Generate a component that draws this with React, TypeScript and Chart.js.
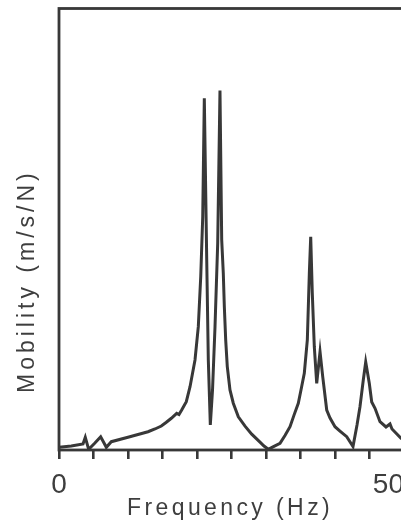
import React, { useEffect, useRef } from "react";
import { Chart, registerables } from "chart.js";

Chart.register(...registerables);

const freqHz = [0, 0.1, 1.78, 3.48, 3.81, 4.3, 5.17, 6.04, 6.86, 7.58, 10.0, 11.45, 12.9, 13.91, 14.83, 15.51, 16.28, 17.06, 17.39, 17.78, 18.45, 18.99, 19.71, 20.19, 20.54, 20.83, 21.06, 21.41, 21.64, 21.93, 22.25, 22.61, 23.0, 23.33, 23.58, 23.81, 23.96, 24.16, 24.39, 24.78, 25.26, 25.99, 26.96, 27.93, 29.13, 29.71, 30.33, 31.01, 32.03, 32.75, 33.48, 34.06, 34.68, 35.07, 35.55, 35.99, 36.28, 36.48, 36.71, 37.0, 37.35, 37.83, 38.22, 38.8, 39.28, 40.0, 40.72, 41.7, 42.61, 43.19, 43.62, 44.1, 44.45, 44.97, 45.32, 45.8, 46.52, 47.39, 47.97, 48.26, 49.57, 50];
const mobility = [0.6, 0.6, 0.9, 1.36, 2.88, 0.16, 1.52, 3.01, 0.61, 1.88, 2.88, 3.5, 4.14, 4.76, 5.44, 6.23, 7.18, 8.31, 8.04, 9.06, 10.94, 14.34, 20.39, 27.93, 39.25, 52.84, 79.66, 43.03, 20.39, 5.66, 13.6, 27.93, 46.8, 81.4, 47.6, 40.1, 32.5, 24.9, 18.9, 13.6, 10.6, 7.5, 5.4, 3.6, 1.8, 0.9, 0.16, 0.7, 1.52, 3.3, 5.28, 7.9, 10.58, 13.6, 17.37, 24.92, 40.02, 48.31, 35.49, 23.4, 15.11, 22.27, 16.6, 9.06, 7.25, 5.28, 4.3, 3.01, 0.79, 5.66, 9.81, 15.86, 19.93, 15.11, 10.87, 9.44, 6.41, 5.21, 5.89, 4.76, 2.65, 2.27];
const xTickLabels = ["0", "50"];
const xTickValues = [0, 50];
const xTitle = "Frequency (Hz)";
const yTitle = "Mobility (m/s/N)";

const INK = "#383838";
const TEXT = "#3e3e3e";

export default function App() {
  const ref = useRef<HTMLCanvasElement | null>(null);
  useEffect(() => {
    if (!ref.current) return;
    const framePlugin = {
      id: "frame",
      afterDraw(chart: any) {
        const ctx = chart.ctx as CanvasRenderingContext2D;
        const a = chart.chartArea;
        const xs = chart.scales.x;
        ctx.save();
        ctx.strokeStyle = INK;
        ctx.lineWidth = 2.8;
        ctx.strokeRect(a.left, a.top, a.right - a.left, a.bottom - a.top);
        // tick labels
        ctx.fillStyle = TEXT;
        ctx.font = "28px 'Liberation Sans Narrow', 'Liberation Sans', sans-serif";
        ctx.textBaseline = "alphabetic";
        xTickValues.forEach((v, i) => {
          const px = xs.getPixelForValue(v);
          ctx.textAlign = i === 0 ? "center" : "right";
          ctx.fillText(xTickLabels[i], px, a.bottom + 43);
        });
        // axis titles
        ctx.font = "23px 'Liberation Sans', Arial, sans-serif";
        (ctx as any).letterSpacing = "3.4px";
        ctx.textAlign = "left";
        ctx.fillText(xTitle, 127, 515);
        ctx.translate(34, 393);
        ctx.rotate(-Math.PI / 2);
        (ctx as any).letterSpacing = "4px";
        ctx.fillText(yTitle, 0, 0);
        ctx.restore();
      },
    };
    const chart = new Chart(ref.current, {
      type: "line",
      data: {
        datasets: [
          {
            data: freqHz.map((f, i) => ({ x: f, y: mobility[i] })),
            borderColor: INK,
            borderWidth: 3,
            pointRadius: 0,
            tension: 0,
            fill: false,
          },
        ],
      },
      options: {
        animation: false,
        responsive: false,
        devicePixelRatio: 1,
        layout: { padding: { left: 59, right: 36, top: 8.5, bottom: 69 } },
        plugins: { legend: { display: false }, tooltip: { enabled: false } },
        scales: {
          x: {
            type: "linear",
            min: 0,
            max: 50,
            offset: false,
            border: { display: false },
            grid: {
              drawOnChartArea: false,
              drawTicks: true,
              tickLength: 9,
              color: INK,
              lineWidth: 2.6,
            },
            ticks: { stepSize: 5, display: false },
          },
          y: {
            display: false,
            min: 0,
            max: 100,
          },
        },
      },
      plugins: [framePlugin],
    });
    return () => chart.destroy();
  }, []);
  return (
    <div
      style={{
        position: "fixed",
        left: 0,
        top: 0,
        width: 401,
        height: 528,
        overflow: "hidden",
        background: "#fff",
      }}
    >
      <canvas ref={ref} width={440} height={528} style={{ display: "block", width: 440, height: 528 }} />
    </div>
  );
}
